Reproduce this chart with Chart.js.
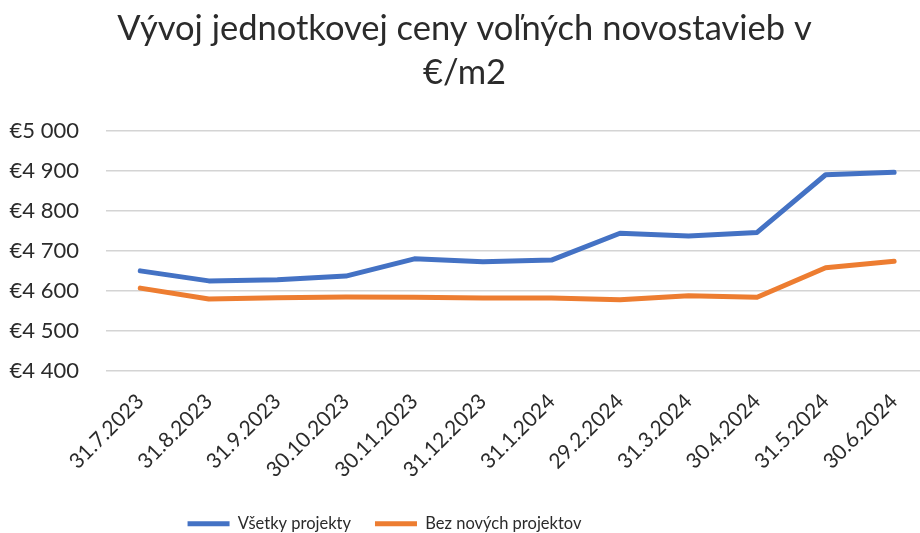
<!DOCTYPE html>
<html>
<head>
<meta charset="utf-8">
<script src="https://cdn.jsdelivr.net/npm/chart.js@4"></script>
<style>
html,body{margin:0;padding:0;background:#fff;overflow:hidden;width:920px;height:533px;}
#wrap{position:absolute;left:0;top:0;width:930px;height:542px;}
</style>
</head>
<body>
<div id="wrap"><canvas id="c"></canvas></div>
<script>
const categories = ['31.7.2023','31.8.2023','31.9.2023','30.10.2023','30.11.2023','31.12.2023','31.1.2024','29.2.2024','31.3.2024','30.4.2024','31.5.2024','30.6.2024'];
const vsetkyProjekty = [4650, 4625, 4628, 4637, 4680, 4673, 4677, 4744, 4737, 4746, 4890, 4896];
const bezNovychProjektov = [4607, 4580, 4583, 4585, 4584, 4582, 4582, 4578, 4588, 4584, 4658, 4674];
const yMin = 4400, yMax = 5000, yStep = 100;
const titleLines = ['Vývoj jednotkovej ceny voľných novostavieb v', '€/m2'];
const seriesNames = ['Všetky projekty', 'Bez nových projektov'];

const FONT = 'Lato, "Open Sans", sans-serif';
const TEXT = '#2b2b2b';

function fmt(v){
  const s = String(Math.round(v));
  return '€' + s.replace(/\B(?=(\d{3})+(?!\d))/g, ' ');
}

// Excel places this legend left of centre; shift the legend box accordingly
const legendShift = {
  id: 'legendShift',
  afterLayout(chart) {
    const lg = chart.legend;
    if (lg) { lg.left -= 80; lg.right -= 80; }
  }
};

new Chart(document.getElementById('c'), {
  type: 'line',
  data: {
    labels: categories,
    datasets: [
      {label: seriesNames[0], data: vsetkyProjekty, borderColor: '#4472C4', backgroundColor: '#4472C4',
       borderWidth: 5, pointRadius: 0, tension: 0, borderCapStyle: 'round', borderJoinStyle: 'round'},
      {label: seriesNames[1], data: bezNovychProjektov, borderColor: '#ED7D31', backgroundColor: '#ED7D31',
       borderWidth: 5, pointRadius: 0, tension: 0, borderCapStyle: 'round', borderJoinStyle: 'round'}
    ]
  },
  plugins: [legendShift],
  options: {
    responsive: true,
    maintainAspectRatio: false,
    animation: false,
    layout: {padding: {left: 0, right: 1, top: 0, bottom: 0}},
    plugins: {
      title: {
        display: true,
        text: titleLines,
        color: TEXT,
        font: {family: FONT, size: 34.5, weight: 'normal', lineHeight: 1.3},
        padding: {top: 6, bottom: 35}
      },
      legend: {
        position: 'bottom',
        labels: {
          color: TEXT,
          font: {family: FONT, size: 16.5},
          usePointStyle: true,
          pointStyleWidth: 42,
          pointStyle: 'line',
          padding: 24
        }
      },
      tooltip: {enabled: false}
    },
    scales: {
      x: {
        offset: true,
        grid: {display: false, drawTicks: false},
        border: {display: false},
        ticks: {color: TEXT, font: {family: FONT, size: 21}, maxRotation: 45, minRotation: 45, padding: 18, autoSkip: false},
        afterFit: (s) => { s.height = 120.5; }
      },
      y: {
        min: yMin, max: yMax,
        grid: {color: '#d4d4d4', lineWidth: 1.5, drawTicks: false},
        border: {display: false},
        ticks: {stepSize: yStep, color: TEXT, font: {family: FONT, size: 22}, padding: 27, callback: (v) => fmt(v)},
        afterFit: (s) => { s.width = 106; }
      }
    }
  }
});
</script>
</body>
</html>
